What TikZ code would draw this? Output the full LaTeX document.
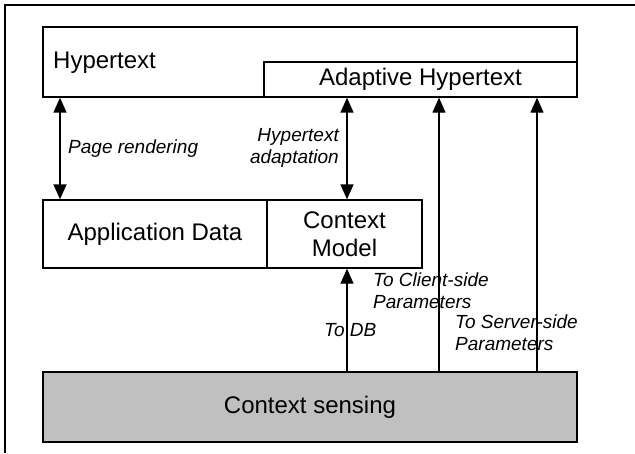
\documentclass[tikz,border=0pt]{standalone}
\usepackage{fontspec}
\setmainfont{Liberation Sans}
\usetikzlibrary{arrows.meta}
\definecolor{sensegray}{HTML}{C0C0C0}
\begin{document}
\begin{tikzpicture}[x=1pt,y=-1pt,
  box/.style={draw,line width=1.3pt,inner sep=0pt,font=\fontsize{24}{28}\selectfont,align=center},
  lbl/.style={inner sep=0pt,font=\fontsize{19}{22}\selectfont\itshape},
  main/.style={inner sep=0pt,font=\fontsize{24}{28}\selectfont},
  dtip/.style={{Triangle[length=15pt,width=13pt]}-{Triangle[length=15pt,width=13pt]},line width=1.5pt},
  thin tip/.style={-{Triangle[length=15pt,width=13pt]},line width=1.2pt}]
\useasboundingbox (0,0) rectangle (635,453);
% outer frame, open past the right and bottom edges
\draw[line width=2.2pt] (5,453) -- (5,5) -- (635,5);

% boxes
\node[box,minimum width=534pt,minimum height=70pt] (hyper) at (310,62) {};
\node[main,anchor=base west] (hyperlbl) at (53,68) {Hypertext};
\node[box,minimum width=313pt,minimum height=35pt] (adapt) at (420.5,79.5) {Adaptive Hypertext};
\node[box,minimum width=224pt,minimum height=68pt] (app) at (155,234) {Application Data};
\node[box,minimum width=155pt,minimum height=68pt] (ctx) at (344.5,234) {Context\\Model};
\node[box,fill=sensegray,line width=1.8pt,minimum width=534pt,minimum height=70pt] (sense) at (310,407) {Context sensing};

% arrow columns
\coordinate (c1) at (60,0);
\coordinate (c2) at (347,0);
\coordinate (c3) at (439,0);
\coordinate (c4) at (537,0);

\draw[dtip] (app.north -| c1) -- (hyper.south -| c1);
\draw[dtip] (ctx.north -| c2) -- (hyper.south -| c2);
\draw[thin tip] (sense.north -| c2) -- (ctx.south -| c2);
\draw[thin tip] (sense.north -| c3) -- (hyper.south -| c3);
\draw[thin tip] (sense.north -| c4) -- (hyper.south -| c4);

% arrow labels (base anchor sits on the last line)
\node[lbl,anchor=base west] (pr) at (68,153) {Page rendering};
\node[lbl,anchor=base east,align=right] (ha) at (339,163) {Hypertext\\adaptation};
\node[lbl,anchor=base west,align=left] (tc) at (373,308) {To Client-side\\Parameters};
\node[lbl,anchor=base west,align=left] (ts) at (455,350) {To Server-side\\Parameters};
\node[lbl,anchor=base west] (tdb) at (324,336) {To DB};
\end{tikzpicture}
\end{document}
